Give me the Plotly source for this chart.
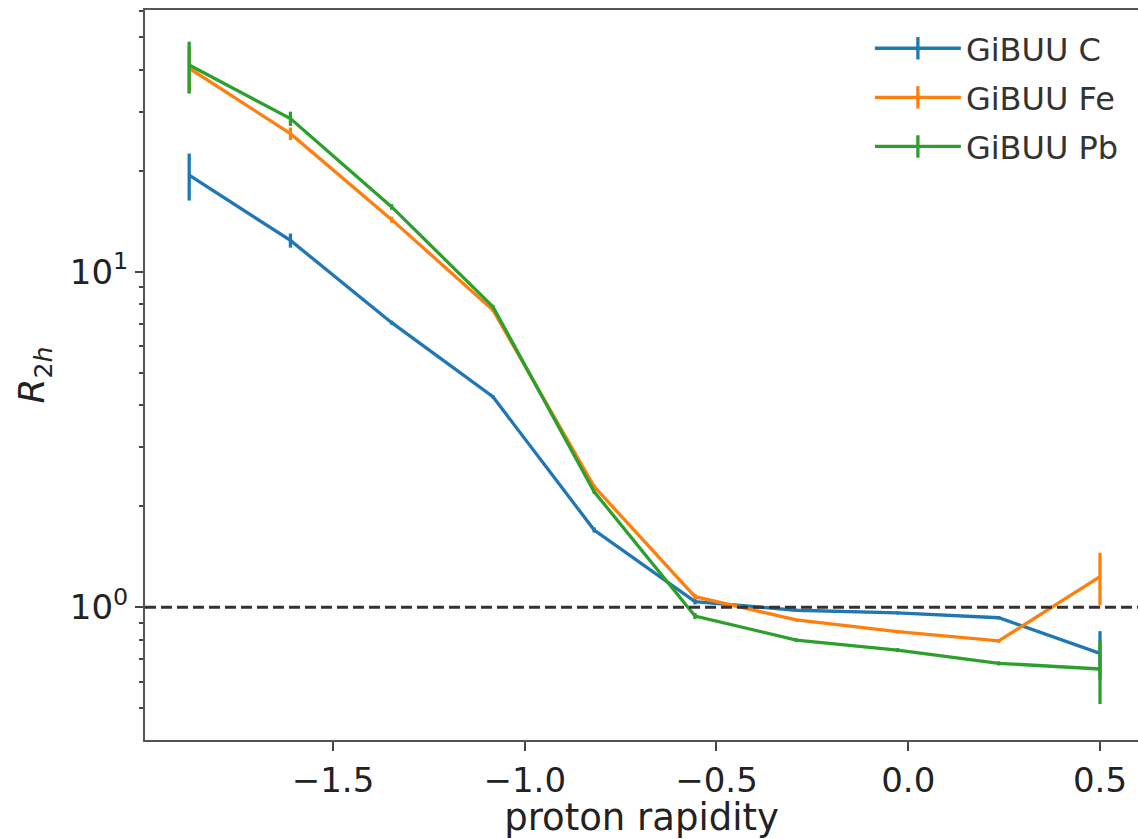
import plotly.graph_objects as go

# ---- data ----
rapidity = [-1.875, -1.611, -1.347, -1.083, -0.819, -0.556, -0.292, -0.028, 0.236, 0.5]

r2h_C = [19.4, 12.4, 7.05, 4.24, 1.70, 1.04, 0.98, 0.962, 0.931, 0.729]
err_C = [3.1, 0.6, 0.1, 0.05, 0.03, 0.02, 0.01, 0.01, 0.01, 0.12]

r2h_Fe = [40.4, 25.8, 14.3, 7.69, 2.29, 1.076, 0.917, 0.846, 0.794, 1.234]
err_Fe = [6.5, 1.1, 0.3, 0.1, 0.03, 0.02, 0.01, 0.01, 0.01, 0.22]

r2h_Pb = [41.3, 28.6, 15.6, 7.87, 2.21, 0.942, 0.799, 0.746, 0.681, 0.655]
err_Pb = [7.2, 1.4, 0.3, 0.1, 0.03, 0.02, 0.01, 0.01, 0.01, 0.14]

series = [
    ("GiBUU C", r2h_C, err_C, "#1f77b4"),
    ("GiBUU Fe", r2h_Fe, err_Fe, "#ff7f0e"),
    ("GiBUU Pb", r2h_Pb, err_Pb, "#2ca02c"),
]

y_ticks = [1, 10]
y_ticktext = ["10<sup>0</sup>", "10<sup>1</sup>"]
y_minor = [0.4, 0.5, 0.6, 0.7, 0.8, 0.9, 2, 3, 4, 5, 6, 7, 8, 9, 20, 30, 40, 50, 60]
x_ticks = [-1.5, -1.0, -0.5, 0.0, 0.5]
x_ticktext = ["\u22121.5", "\u22121.0", "\u22120.5", "0.0", "0.5"]

FONT = "DejaVu Sans"
fig = go.Figure()

for name, vals, errs, col in series:
    fig.add_trace(go.Scatter(
        x=rapidity, y=vals, mode="lines", name=name, showlegend=False,
        line=dict(color=col, width=3.3),
        error_y=dict(type="data", array=errs, visible=True, color=col,
                     thickness=3.3, width=0),
    ))

for i, (name, vals, errs, col) in enumerate(series):
    fig.add_trace(go.Scatter(
        x=[None], y=[None], mode="lines+markers", name=name,
        legendgroup=f"g{i}",
        line=dict(color=col, width=3.3),
        marker=dict(symbol="line-ns", size=16, color=col,
                    line=dict(color=col, width=3.3)),
    ))

fig.add_shape(type="line", xref="paper", yref="y", x0=0, x1=1, y0=1, y1=1,
              line=dict(color="#333333", width=3, dash="11px,5px"), layer="above")

fig.update_layout(
    width=1138, height=839,
    margin=dict(l=145, r=0, t=10, b=99),
    paper_bgcolor="white", plot_bgcolor="white",
    font=dict(family=FONT, size=34, color="#222"),
    showlegend=True,
    legend=dict(x=0.730, y=0.985, xanchor="left", yanchor="top",
                bgcolor="rgba(255,255,255,0)", font=dict(size=32, color="#333"),
                tracegroupgap=4.5, itemwidth=86),
    xaxis=dict(
        range=[-1.9902, 0.5991], showgrid=False, zeroline=False,
        showline=True, linecolor="#555", linewidth=2, mirror=True,
        ticks="outside", ticklen=9, tickwidth=2, tickcolor="#444",
        tickmode="array", tickvals=x_ticks, ticktext=x_ticktext,
        title=dict(text="proton rapidity", font=dict(size=37), standoff=8),
    ),
    yaxis=dict(
        type="log", range=[-0.3954, 1.780], showgrid=False, zeroline=False,
        showline=True, linecolor="#555", linewidth=2,
        ticks="outside", ticklen=8, tickwidth=2, tickcolor="#444",
        tickmode="array", tickvals=y_ticks, ticktext=y_ticktext,
        minor=dict(ticks="outside", ticklen=4, tickwidth=1.5, tickcolor="#444",
                   tickmode="array", tickvals=y_minor, showgrid=False),
        title=dict(text="<i>R</i><sub>2<i>h</i></sub>", font=dict(size=36), standoff=14),
    ),
)

fig.write_html("out.html")
